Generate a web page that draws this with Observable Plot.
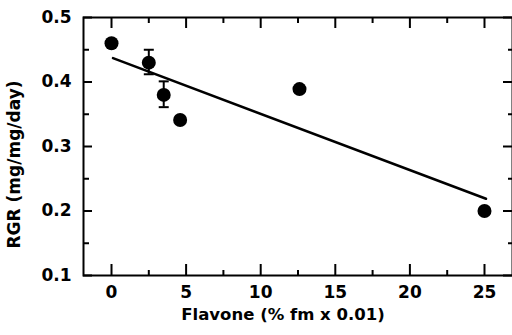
<!DOCTYPE html>
<html><head><meta charset="utf-8">
<script src="https://cdn.jsdelivr.net/npm/d3@7"></script>
<script src="https://cdn.jsdelivr.net/npm/@observablehq/plot@0.6"></script>
<style>body{margin:0;background:#fff} svg{display:block}</style>
</head><body><div id="chart"></div>
<script>
const flavone = [0, 2.5, 3.5, 4.6, 12.6, 25];
const rgr = [0.460, 0.430, 0.380, 0.341, 0.389, 0.200];
const errX = [2.5, 3.5];
const errLow = [0.412, 0.361];
const errHigh = [0.450, 0.401];
const fitX = [0.1, 25.1];
const fitY = [0.437, 0.219];
const xMajor = [0, 5, 10, 15, 20, 25];
const xMinor = [2.5, 7.5, 12.5, 17.5, 22.5];
const yMajor = [0.1, 0.2, 0.3, 0.4, 0.5];
const yMinor = [0.15, 0.25, 0.35, 0.45];
const xTickLabels = ["0", "5", "10", "15", "20", "25"];
const yTickLabels = ["0.1", "0.2", "0.3", "0.4", "0.5"];
const xTitle = "Flavone (% fm x 0.01)";
const yTitle = "RGR (mg/mg/day)";

const points = flavone.map((x, i) => ({x, y: rgr[i]}));
const errs = errX.map((x, i) => ({x, lo: errLow[i], hi: errHigh[i]}));
const fit = fitX.map((x, i) => ({x, y: fitY[i]}));

const W = 512, H = 335, mL = 83, mR = 0, mT = 17, mB = 60;
const FW = W - mL - mR, FH = H - mT - mB;
const capSymbol = {draw(ctx, size) { const r = Math.sqrt(size / Math.PI); ctx.moveTo(-r, 0); ctx.lineTo(r, 0); }};
const lbl = {fontSize: 17, fontWeight: "bold", fill: "black"};

const chart = Plot.plot({
  width: W,
  height: H,
  marginLeft: mL,
  marginRight: mR,
  marginTop: mT,
  marginBottom: mB,
  style: {fontFamily: "DejaVu Sans, sans-serif"},
  x: {domain: [-1.877, 26.877], axis: null},
  y: {domain: [0.1, 0.5], axis: null},
  marks: [
    // tick labels
    Plot.text(xMajor, {x: d => d, text: (d, i) => xTickLabels[i], frameAnchor: "bottom", lineAnchor: "top", dy: 10, ...lbl}),
    Plot.text(yMajor, {y: d => d, text: (d, i) => yTickLabels[i], frameAnchor: "left", textAnchor: "end", dx: -12, ...lbl}),
    // titles
    Plot.text([xTitle], {text: d => d, frameAnchor: "bottom", textAnchor: "middle", lineAnchor: "top", dy: 33, dx: -15, ...lbl, fontSize: 16.5}),
    Plot.text([yTitle], {text: d => d, frameAnchor: "left", textAnchor: "middle", lineAnchor: "middle", rotate: -90, dx: -69, dy: 18, ...lbl}),
    // fit line
    Plot.line(fit, {x: "x", y: "y", stroke: "black", strokeWidth: 2.5}),
    // error bars
    Plot.ruleX(errs, {x: "x", y1: "lo", y2: "hi", stroke: "black", strokeWidth: 2}),
    Plot.dot(errs, {x: "x", y: "lo", symbol: capSymbol, r: 5, stroke: "black", strokeWidth: 2}),
    Plot.dot(errs, {x: "x", y: "hi", symbol: capSymbol, r: 5, stroke: "black", strokeWidth: 2}),
    // points
    Plot.dot(points, {x: "x", y: "y", r: 7, fill: "black", stroke: "none"}),
    // bottom ticks
    Plot.tickX(xMajor, {x: d => d, insetTop: FH - 11, stroke: "black", strokeWidth: 2}),
    Plot.tickX(xMinor, {x: d => d, insetTop: FH - 5, stroke: "black", strokeWidth: 2}),
    // top ticks
    Plot.tickX(xMajor, {x: d => d, insetBottom: FH - 11, stroke: "black", strokeWidth: 2}),
    Plot.tickX(xMinor, {x: d => d, insetBottom: FH - 6, stroke: "black", strokeWidth: 2}),
    // left ticks
    Plot.tickY(yMajor, {y: d => d, insetRight: FW - 9, stroke: "black", strokeWidth: 2}),
    Plot.tickY(yMinor, {y: d => d, insetRight: FW - 6, stroke: "black", strokeWidth: 2}),
    // right ticks
    Plot.tickY(yMajor, {y: d => d, insetLeft: FW - 9, stroke: "black", strokeWidth: 2}),
    Plot.tickY(yMinor, {y: d => d, insetLeft: FW - 4, stroke: "black", strokeWidth: 2}),
    Plot.frame({stroke: "black", strokeWidth: 2})
  ]
});
document.getElementById("chart").appendChild(chart);
</script>
</body></html>
